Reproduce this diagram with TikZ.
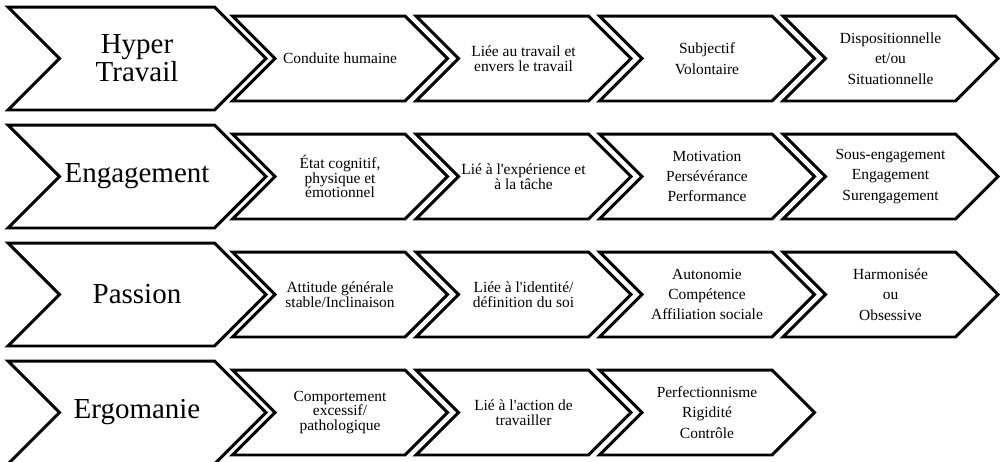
\documentclass[tikz,border=0pt]{standalone}
\usepackage{fontspec}
\setmainfont{Liberation Serif}
\usetikzlibrary{shapes.symbols}
\newcommand{\apos}{\textquotesingle}

\begin{document}
\begin{tikzpicture}[x=0.02cm, y=-0.02cm,
            chevron/.style={signal, signal from=west, signal to=east, signal pointer angle=90, draw=black, line width=1.7pt, inner sep=0pt, align=center},
            headchev/.style={chevron, minimum width=5.16cm, minimum height=2.06cm, font=\fontsize{16.5}{16}\selectfont},
            stepchev/.style={chevron, minimum width=4.3cm, minimum height=1.7cm, font=\fontsize{8.8}{8.2}\selectfont},
            listchev/.style={stepchev, font=\fontsize{8.8}{11.6}\selectfont}
        ]
            \useasboundingbox (0,0) rectangle (1000,461);

% Hyper travail
            \node[headchev] (hyper) at (137,58.5) {Hyper\\Travail};
            \node[stepchev] (hyper1) at (340,58.5) {Conduite humaine};
            \node[stepchev] (hyper2) at (523.5,58.5) {Liée au travail et\\envers le travail};
            \node[listchev] (hyper3) at (707,58.5) {Subjectif\\Volontaire};
            \node[listchev] (hyper4) at (890.5,58.5) {Dispositionnelle\\et/ou\\Situationnelle};

% Engagement
            \node[headchev] (engag) at (137,176.5) {Engagement};
            \node[stepchev] (engag1) at (340,176.5) {État cognitif,\\physique et\\émotionnel};
            \node[stepchev] (engag2) at (523.5,176.5) {Lié à l\apos expérience et\\à la tâche};
            \node[listchev] (engag3) at (707,176.5) {Motivation\\Persévérance\\Performance};
            \node[listchev] (engag4) at (890.5,176.5) {Sous-engagement\\Engagement\\Surengagement};

% Passion
            \node[headchev] (passion) at (137,294.5) {Passion};
            \node[stepchev] (passion1) at (340,294.5) {Attitude générale\\stable/Inclinaison};
            \node[stepchev] (passion2) at (523.5,294.5) {Liée à l\apos identité/\\définition du soi};
            \node[listchev] (passion3) at (707,294.5) {Autonomie\\Compétence\\Affiliation sociale};
            \node[listchev] (passion4) at (890.5,294.5) {Harmonisée\\ou\\Obsessive};

% Ergomanie
            \node[headchev] (ergo) at (137,412.5) {Ergomanie};
            \node[stepchev] (ergo1) at (340,412.5) {Comportement\\excessif/\\pathologique};
            \node[stepchev] (ergo2) at (523.5,412.5) {Lié à l\apos action de\\travailler};
            \node[listchev] (ergo3) at (707,412.5) {Perfectionnisme\\Rigidité\\Contrôle};

        \end{tikzpicture}
\end{document}
